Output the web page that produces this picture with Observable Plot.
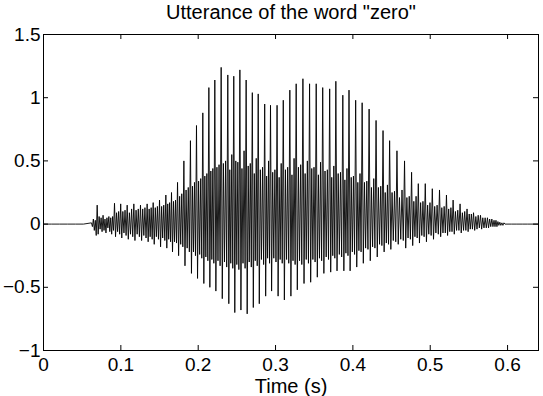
<!DOCTYPE html>
<html>
<head>
<meta charset="utf-8">
<script src="https://cdn.jsdelivr.net/npm/d3@7"></script>
<script src="https://cdn.jsdelivr.net/npm/@observablehq/plot@0.6"></script>
<style>
  html, body { margin: 0; padding: 0; background: white; }
</style>
</head>
<body>
<div id="chart"></div>
<script>
const title = "Utterance of the word \"zero\"";
const xLabel = "Time (s)";
const xTicks = [0, 0.1, 0.2, 0.3, 0.4, 0.5, 0.6];
const yTicks = [-1, -0.5, 0, 0.5, 1, 1.5];

// start time (s) of each pitch period
const periodT = [0.0000, 0.0620, 0.0694, 0.0770, 0.0845, 0.0918, 0.0998, 0.1082, 0.1168, 0.1254,
  0.1340, 0.1418, 0.1500, 0.1582, 0.1655, 0.1733, 0.1815, 0.1900, 0.1978, 0.2060,
  0.2138, 0.2215, 0.2297, 0.2383, 0.2460, 0.2539, 0.2620, 0.2700, 0.2776, 0.2860,
  0.2935, 0.3020, 0.3100, 0.3185, 0.3267, 0.3354, 0.3440, 0.3526, 0.3610, 0.3700,
  0.3780, 0.3870, 0.3950, 0.4036, 0.4120, 0.4210, 0.4300, 0.4390, 0.4475, 0.4570,
  0.4668, 0.4759, 0.4846, 0.4936, 0.5027, 0.5120, 0.5210, 0.5296, 0.5386, 0.5476,
  0.5560, 0.5650, 0.5740, 0.5825, 0.5900, 0.5980, 0.6400];
// main positive spike of each period
const peakHi = [0, 0.01, 0.15, 0.07, 0.06, 0.165, 0.16, 0.15, 0.16, 0.15,
  0.16, 0.17, 0.19, 0.23, 0.25, 0.33, 0.50, 0.66, 0.78, 0.88,
  1.08, 1.14, 1.24, 1.18, 1.17, 1.22, 1.14, 1.04, 1.03, 0.95,
  0.94, 0.94, 0.98, 1.06, 1.11, 1.15, 1.11, 1.11, 1.08, 1.07,
  1.13, 1.02, 1.06, 0.98, 0.96, 0.91, 0.82, 0.74, 0.66, 0.58,
  0.50, 0.41, 0.32, 0.32, 0.28, 0.27, 0.23, 0.19, 0.16, 0.12,
  0.09, 0.07, 0.05, 0.03, 0.015, 0, 0];
// deepest trough of each period
const peakLo = [0, -0.02, -0.08, -0.05, -0.06, -0.10, -0.11, -0.12, -0.13, -0.13,
  -0.14, -0.16, -0.18, -0.19, -0.22, -0.25, -0.33, -0.39, -0.43, -0.47,
  -0.50, -0.53, -0.59, -0.63, -0.70, -0.68, -0.71, -0.66, -0.63, -0.57,
  -0.53, -0.57, -0.60, -0.57, -0.52, -0.47, -0.46, -0.42, -0.39, -0.38,
  -0.37, -0.37, -0.37, -0.34, -0.31, -0.29, -0.26, -0.22, -0.20, -0.16,
  -0.19, -0.17, -0.15, -0.14, -0.12, -0.10, -0.09, -0.08, -0.07, -0.06,
  -0.05, -0.04, -0.03, -0.02, -0.01, 0, 0];
// secondary ripples inside each period
const ripHi1 = [0, 0.04, 0.06, 0.04, 0.05, 0.09, 0.10, 0.09, 0.11, 0.12,
  0.12, 0.13, 0.14, 0.16, 0.18, 0.22, 0.27, 0.30, 0.34, 0.38,
  0.42, 0.45, 0.48, 0.43, 0.50, 0.44, 0.46, 0.40, 0.43, 0.38,
  0.41, 0.37, 0.43, 0.39, 0.45, 0.40, 0.44, 0.39, 0.42, 0.37,
  0.40, 0.35, 0.37, 0.33, 0.33, 0.29, 0.29, 0.25, 0.25, 0.21,
  0.21, 0.18, 0.17, 0.15, 0.14, 0.13, 0.12, 0.10, 0.09, 0.08,
  0.06, 0.05, 0.04, 0.03, 0.01, 0, 0];
const ripLo1 = [0, -0.05, -0.04, -0.07, -0.08, -0.06, -0.07, -0.08, -0.08, -0.09,
  -0.10, -0.10, -0.11, -0.12, -0.14, -0.16, -0.19, -0.22, -0.24, -0.26,
  -0.28, -0.29, -0.30, -0.31, -0.32, -0.31, -0.30, -0.29, -0.28, -0.27,
  -0.27, -0.28, -0.28, -0.29, -0.29, -0.28, -0.28, -0.27, -0.26, -0.25,
  -0.24, -0.23, -0.22, -0.21, -0.19, -0.18, -0.16, -0.15, -0.13, -0.12,
  -0.11, -0.10, -0.09, -0.08, -0.07, -0.07, -0.06, -0.05, -0.05, -0.04,
  -0.04, -0.03, -0.02, -0.02, -0.01, 0, 0];
const ripHi2 = [0, 0.03, 0.05, 0.05, 0.06, 0.10, 0.11, 0.12, 0.12, 0.13,
  0.13, 0.14, 0.15, 0.17, 0.19, 0.24, 0.29, 0.33, 0.36, 0.40,
  0.44, 0.47, 0.50, 0.55, 0.49, 0.58, 0.48, 0.52, 0.45, 0.50,
  0.43, 0.48, 0.45, 0.52, 0.47, 0.50, 0.45, 0.49, 0.43, 0.46,
  0.41, 0.44, 0.38, 0.40, 0.34, 0.36, 0.30, 0.31, 0.26, 0.27,
  0.22, 0.22, 0.18, 0.17, 0.15, 0.14, 0.13, 0.11, 0.10, 0.08,
  0.07, 0.05, 0.04, 0.02, 0.01, 0, 0];
const ripLo2 = [0, -0.09, -0.06, -0.03, -0.05, -0.08, -0.09, -0.10, -0.10, -0.11,
  -0.12, -0.12, -0.13, -0.14, -0.15, -0.18, -0.22, -0.25, -0.27, -0.29,
  -0.31, -0.33, -0.34, -0.35, -0.36, -0.35, -0.34, -0.33, -0.32, -0.31,
  -0.30, -0.31, -0.31, -0.32, -0.32, -0.31, -0.30, -0.29, -0.28, -0.27,
  -0.26, -0.25, -0.24, -0.22, -0.20, -0.19, -0.17, -0.16, -0.14, -0.13,
  -0.12, -0.11, -0.10, -0.09, -0.08, -0.07, -0.06, -0.05, -0.05, -0.04,
  -0.03, -0.03, -0.02, -0.01, 0, 0, 0];

// table of turning points built from the arrays above
const wave = [];
periodT.forEach((t, i) => {
  const next = periodT[i + 1];
  const vals = [peakHi[i], peakLo[i], ripHi1[i], ripLo1[i], ripHi2[i], ripLo2[i]];
  if (next === undefined) { wave.push({t, v: peakHi[i]}); return; }
  vals.forEach((v, k) => wave.push({t: t + (next - t) * k / vals.length, v}));
});

const W = 543, H = 396, mT = 34, mB = 46, mL = 43, mR = 5;
const innerH = H - mT - mB, innerW = W - mL - mR;
const tick = 5;
const fmt = d3.format("~g");

const chart = Plot.plot({
  width: W, height: H,
  marginTop: mT, marginBottom: mB, marginLeft: mL, marginRight: mR,
  style: {fontFamily: "'Liberation Sans', Arial, Helvetica, sans-serif", fontSize: "19px", background: "white", color: "black", overflow: "visible"},
  x: {domain: [0, 0.64], label: null},
  y: {domain: [-1, 1.5], label: null},
  marks: [
    Plot.lineY(wave, {x: "t", y: "v", stroke: "black", strokeWidth: 0.9}),
    Plot.frame({stroke: "black"}),
    Plot.tickX(xTicks, {x: d => d, insetTop: innerH - tick, stroke: "black"}),
    Plot.tickX(xTicks, {x: d => d, insetBottom: innerH - tick, stroke: "black"}),
    Plot.tickY(yTicks, {y: d => d, insetRight: innerW - tick, stroke: "black"}),
    Plot.tickY(yTicks, {y: d => d, insetLeft: innerW - tick, stroke: "black"}),
    Plot.axisX(xTicks, {tickSize: 0, tickPadding: 7, fontSize: 19, label: null, tickFormat: fmt}),
    Plot.axisY(yTicks, {tickSize: 0, tickPadding: 3, fontSize: 19, label: null, tickFormat: fmt}),
    Plot.text([xLabel], {frameAnchor: "bottom", lineAnchor: "middle", dy: 36, fontSize: 20, fill: "black"}),
    Plot.text([title], {frameAnchor: "top", lineAnchor: "middle", dy: -22, fontSize: 20, fill: "black"})
  ]
});
document.getElementById("chart").appendChild(chart);
</script>
</body>
</html>
